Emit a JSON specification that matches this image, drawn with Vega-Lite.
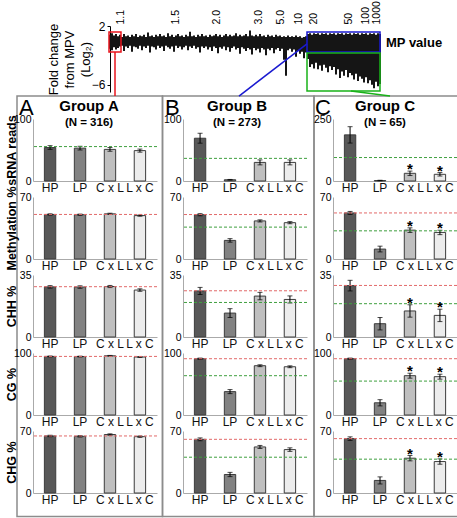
{
"$schema": "https://vega.github.io/schema/vega-lite/v6.json",
"padding": {"left": 4, "top": 0, "right": 0, "bottom": 0},
"background": "white",
"config": {
  "font": "Liberation Sans",
  "view": {"stroke": null},
  "axis": {"labelFont": "Liberation Sans", "titleFont": "Liberation Sans", "labelColor": "black", "titleColor": "black", "grid": false},
  "axisY": {"ticks": false, "domainColor": "#aaaaaa", "labelFontSize": 10.5, "labelPadding": 2, "titleFontSize": 12.5, "titleFontWeight": "bold", "titlePadding": -5, "minExtent": 20, "maxExtent": 20},
  "axisBand": {"labelAngle": 0, "ticks": false, "domainColor": "#aaaaaa", "labelFontSize": 12, "labelPadding": 1, "labelColor": "#111111"},
  "title": {"font": "Liberation Sans", "subtitleFont": "Liberation Sans", "color": "black", "subtitleColor": "black"}
},
"datasets": {
  "fc": [
    {"r":0,"lo":-1.1,"hi":0.8},{"r":2,"lo":-1.3,"hi":1.0},{"r":4,"lo":-0.9,"hi":0.7},{"r":6,"lo":-1.2,"hi":0.9},{"r":8,"lo":-1.0,"hi":0.6},{"r":10,"lo":-0.8,"hi":0.8},{"r":12,"lo":-0.7,"hi":0.5},{"r":14,"lo":-1.4,"hi":0.9},{"r":16,"lo":-0.8,"hi":0.6},{"r":18,"lo":-1.0,"hi":0.7},
    {"r":20,"lo":-0.7,"hi":0.5},{"r":22,"lo":-1.5,"hi":0.8},{"r":24,"lo":-0.8,"hi":0.6},{"r":26,"lo":-0.9,"hi":0.9},{"r":28,"lo":-1.1,"hi":0.5},{"r":30,"lo":-0.7,"hi":0.7},{"r":32,"lo":-1.3,"hi":0.6},{"r":34,"lo":-0.8,"hi":0.8},{"r":36,"lo":-1.0,"hi":0.5},{"r":38,"lo":-0.7,"hi":1.1},
    {"r":40,"lo":-1.6,"hi":0.6},{"r":42,"lo":-0.8,"hi":0.7},{"r":44,"lo":-0.9,"hi":0.5},{"r":46,"lo":-1.2,"hi":0.8},{"r":48,"lo":-0.7,"hi":0.6},{"r":50,"lo":-1.0,"hi":0.9},{"r":52,"lo":-0.8,"hi":0.6},{"r":54,"lo":-1.4,"hi":0.7},{"r":56,"lo":-0.7,"hi":0.5},{"r":58,"lo":-0.9,"hi":1.0},
    {"r":60,"lo":-1.1,"hi":0.6},{"r":62,"lo":-0.8,"hi":0.8},{"r":64,"lo":-1.5,"hi":0.5},{"r":66,"lo":-0.7,"hi":0.7},{"r":68,"lo":-1.0,"hi":0.9},{"r":70,"lo":-0.8,"hi":0.6},{"r":72,"lo":-1.2,"hi":0.7},{"r":74,"lo":-0.9,"hi":0.5},{"r":76,"lo":-0.7,"hi":0.8},{"r":78,"lo":-1.3,"hi":0.6},
    {"r":80,"lo":-0.8,"hi":1.2},{"r":82,"lo":-1.0,"hi":0.6},{"r":84,"lo":-0.7,"hi":0.7},{"r":86,"lo":-1.1,"hi":0.5},{"r":88,"lo":-0.9,"hi":0.8},{"r":90,"lo":-1.6,"hi":0.6},{"r":92,"lo":-0.8,"hi":0.9},{"r":94,"lo":-1.0,"hi":0.6},{"r":96,"lo":-0.8,"hi":0.7},{"r":98,"lo":-1.2,"hi":0.5},
    {"r":100,"lo":-0.9,"hi":0.8},{"r":102,"lo":-1.4,"hi":0.6},{"r":104,"lo":-0.8,"hi":0.7},{"r":106,"lo":-1.0,"hi":0.9},{"r":108,"lo":-1.7,"hi":0.6},{"r":110,"lo":-0.9,"hi":0.8},{"r":112,"lo":-1.1,"hi":0.5},{"r":114,"lo":-0.8,"hi":0.7},{"r":116,"lo":-1.3,"hi":0.9},{"r":118,"lo":-0.9,"hi":0.6},
    {"r":120,"lo":-1.5,"hi":0.8},{"r":122,"lo":-1.0,"hi":0.6},{"r":124,"lo":-0.8,"hi":0.7},{"r":126,"lo":-1.2,"hi":1.0},{"r":128,"lo":-1.0,"hi":0.6},{"r":130,"lo":-1.8,"hi":0.8},{"r":132,"lo":-0.9,"hi":0.6},{"r":134,"lo":-1.1,"hi":0.7},{"r":136,"lo":-1.4,"hi":0.9},{"r":138,"lo":-1.0,"hi":0.6},
    {"r":140,"lo":-1.2,"hi":1.4},{"r":142,"lo":-1.9,"hi":0.7},{"r":144,"lo":-1.0,"hi":0.6},{"r":146,"lo":-1.3,"hi":0.8},{"r":148,"lo":-1.1,"hi":0.6},{"r":150,"lo":-1.6,"hi":0.9},{"r":152,"lo":-1.0,"hi":0.6},{"r":154,"lo":-1.2,"hi":0.7},{"r":156,"lo":-2.0,"hi":0.5},{"r":158,"lo":-1.1,"hi":0.8},
    {"r":160,"lo":-1.3,"hi":0.6},{"r":162,"lo":-1.0,"hi":0.7},{"r":164,"lo":-1.7,"hi":0.5},{"r":166,"lo":-1.2,"hi":0.8},{"r":168,"lo":-1.0,"hi":0.6},{"r":170,"lo":-1.4,"hi":0.7},{"r":172,"lo":-1.1,"hi":0.5},{"r":174,"lo":-2.6,"hi":0.6},{"r":176,"lo":-4.8,"hi":0.5},{"r":178,"lo":-1.3,"hi":0.7},
    {"r":180,"lo":-1.1,"hi":0.5},{"r":182,"lo":-1.5,"hi":0.6},{"r":184,"lo":-1.2,"hi":0.5},{"r":186,"lo":-2.2,"hi":0.7},{"r":188,"lo":-1.4,"hi":0.5},{"r":190,"lo":-1.8,"hi":0.6},{"r":192,"lo":-1.5,"hi":0.4},{"r":194,"lo":-2.4,"hi":0.5},{"r":196,"lo":-1.6,"hi":0.6},{"r":198,"lo":-2.5,"hi":0.9},
    {"r":200,"lo":-3.6,"hi":1.0},{"r":202,"lo":-3.2,"hi":0.8},{"r":204,"lo":-3.8,"hi":1.0},{"r":206,"lo":-3.0,"hi":0.9},{"r":208,"lo":-3.9,"hi":1.0},{"r":210,"lo":-3.4,"hi":0.8},{"r":212,"lo":-4.1,"hi":1.0},{"r":214,"lo":-3.3,"hi":0.9},{"r":216,"lo":-3.7,"hi":1.0},{"r":218,"lo":-4.3,"hi":0.8},
    {"r":220,"lo":-3.5,"hi":1.0},{"r":222,"lo":-4.0,"hi":0.9},{"r":224,"lo":-3.6,"hi":1.0},{"r":226,"lo":-4.6,"hi":0.8},{"r":228,"lo":-3.9,"hi":1.0},{"r":230,"lo":-5.1,"hi":0.9},{"r":232,"lo":-4.2,"hi":1.0},{"r":234,"lo":-4.8,"hi":0.8},{"r":236,"lo":-4.0,"hi":1.0},{"r":238,"lo":-5.0,"hi":0.9},
    {"r":240,"lo":-4.4,"hi":1.0},{"r":242,"lo":-4.7,"hi":0.8},{"r":244,"lo":-5.3,"hi":1.0},{"r":246,"lo":-4.5,"hi":0.9},{"r":248,"lo":-5.5,"hi":1.0},{"r":250,"lo":-4.9,"hi":0.8},{"r":252,"lo":-5.2,"hi":1.0},{"r":254,"lo":-5.7,"hi":0.9},{"r":256,"lo":-5.0,"hi":1.0},{"r":258,"lo":-5.8,"hi":0.8},
    {"r":260,"lo":-5.4,"hi":1.0},{"r":262,"lo":-6.0,"hi":0.9},{"r":264,"lo":-6.5,"hi":1.0},{"r":266,"lo":-5.6,"hi":0.8},{"r":268,"lo":-6.2,"hi":1.0},{"r":270,"lo":-5.9,"hi":0.9}
  ],
  "boxes": [
    {"name":"A box","x1":-1,"x2":11,"y1":1.18,"y2":-1.55},
    {"name":"B box","x1":197,"x2":270,"y1":1.18,"y2":-1.55},
    {"name":"C box","x1":197,"x2":270,"y1":-1.68,"y2":-6.86},
    {"name":"frame","x1":-93,"x2":52.5,"y1":-7.55,"y2":-64.9},
    {"name":"frame","x1":52.5,"x2":204,"y1":-7.55,"y2":-64.9},
    {"name":"frame","x1":204,"x2":349,"y1":-7.55,"y2":-64.9}
  ],
  "links": [
    {"name":"A box","x1":5,"y1":-1.55,"x2":5,"y2":-7.55},
    {"name":"B box","x1":197,"y1":-0.45,"x2":129,"y2":-7.55},
    {"name":"C box","x1":241,"y1":-6.86,"x2":280,"y2":-7.55}
  ],
  "letters": [
    {"t":"A","x":-91,"y":-10.1},{"t":"B","x":55,"y":-10.1},{"t":"C","x":205,"y":-10.1}
  ],
  "notes": [{"t":"MP value","x":276,"y":-0.86}],
  "bars": [
    {"g":"A","k":"sRNA","cat":"HP","m":54,"lo":51,"hi":57,"sig":false},
    {"g":"A","k":"sRNA","cat":"LP","m":53,"lo":50,"hi":56,"sig":false},
    {"g":"A","k":"sRNA","cat":"C x L","m":51,"lo":48,"hi":54,"sig":false},
    {"g":"A","k":"sRNA","cat":"L x C","m":49,"lo":46.5,"hi":51.5,"sig":false},
    {"g":"A","k":"meth","cat":"HP","m":50.3,"lo":49.6,"hi":51,"sig":false},
    {"g":"A","k":"meth","cat":"LP","m":50,"lo":49.3,"hi":50.7,"sig":false},
    {"g":"A","k":"meth","cat":"C x L","m":51,"lo":50.3,"hi":51.7,"sig":false},
    {"g":"A","k":"meth","cat":"L x C","m":49,"lo":48.3,"hi":49.7,"sig":false},
    {"g":"A","k":"CHH","cat":"HP","m":28.3,"lo":27.6,"hi":29,"sig":false},
    {"g":"A","k":"CHH","cat":"LP","m":28.2,"lo":27.5,"hi":28.9,"sig":false},
    {"g":"A","k":"CHH","cat":"C x L","m":28.5,"lo":27.9,"hi":29.1,"sig":false},
    {"g":"A","k":"CHH","cat":"L x C","m":26.5,"lo":25.8,"hi":27.2,"sig":false},
    {"g":"A","k":"CG","cat":"HP","m":94.5,"lo":93.9,"hi":95.1,"sig":false},
    {"g":"A","k":"CG","cat":"LP","m":94.3,"lo":93.7,"hi":94.9,"sig":false},
    {"g":"A","k":"CG","cat":"C x L","m":95.5,"lo":94.9,"hi":96.1,"sig":false},
    {"g":"A","k":"CG","cat":"L x C","m":93.5,"lo":92.9,"hi":94.1,"sig":false},
    {"g":"A","k":"CHG","cat":"HP","m":64.4,"lo":63.6,"hi":65.2,"sig":false},
    {"g":"A","k":"CHG","cat":"LP","m":64,"lo":63.2,"hi":64.8,"sig":false},
    {"g":"A","k":"CHG","cat":"C x L","m":66,"lo":65.2,"hi":66.8,"sig":false},
    {"g":"A","k":"CHG","cat":"L x C","m":63.6,"lo":62.8,"hi":64.4,"sig":false},
    {"g":"B","k":"sRNA","cat":"HP","m":69,"lo":61,"hi":77,"sig":false},
    {"g":"B","k":"sRNA","cat":"LP","m":2,"lo":1.5,"hi":2.5,"sig":false},
    {"g":"B","k":"sRNA","cat":"C x L","m":30,"lo":26,"hi":34,"sig":false},
    {"g":"B","k":"sRNA","cat":"L x C","m":30,"lo":26,"hi":34,"sig":false},
    {"g":"B","k":"meth","cat":"HP","m":50,"lo":48.8,"hi":51.2,"sig":false},
    {"g":"B","k":"meth","cat":"LP","m":21,"lo":19,"hi":23,"sig":false},
    {"g":"B","k":"meth","cat":"C x L","m":43,"lo":41.8,"hi":44.2,"sig":false},
    {"g":"B","k":"meth","cat":"L x C","m":41,"lo":39.8,"hi":42.2,"sig":false},
    {"g":"B","k":"CHH","cat":"HP","m":26,"lo":24,"hi":28,"sig":false},
    {"g":"B","k":"CHH","cat":"LP","m":13.5,"lo":11,"hi":16,"sig":false},
    {"g":"B","k":"CHH","cat":"C x L","m":23.1,"lo":21,"hi":25.2,"sig":false},
    {"g":"B","k":"CHH","cat":"L x C","m":21.2,"lo":19.2,"hi":23.2,"sig":false},
    {"g":"B","k":"CG","cat":"HP","m":90.8,"lo":89.8,"hi":91.8,"sig":false},
    {"g":"B","k":"CG","cat":"LP","m":37.7,"lo":34.5,"hi":41,"sig":false},
    {"g":"B","k":"CG","cat":"C x L","m":79.5,"lo":78,"hi":81,"sig":false},
    {"g":"B","k":"CG","cat":"L x C","m":77.8,"lo":76.3,"hi":79.3,"sig":false},
    {"g":"B","k":"CHG","cat":"HP","m":60.6,"lo":59,"hi":62.2,"sig":false},
    {"g":"B","k":"CHG","cat":"LP","m":20.9,"lo":18.5,"hi":23.3,"sig":false},
    {"g":"B","k":"CHG","cat":"C x L","m":52,"lo":50.3,"hi":53.7,"sig":false},
    {"g":"B","k":"CHG","cat":"L x C","m":49,"lo":47,"hi":51,"sig":false},
    {"g":"C","k":"sRNA","cat":"HP","m":186,"lo":153,"hi":219,"sig":false},
    {"g":"C","k":"sRNA","cat":"LP","m":2,"lo":1,"hi":3,"sig":false},
    {"g":"C","k":"sRNA","cat":"C x L","m":31,"lo":22,"hi":40,"sig":true},
    {"g":"C","k":"sRNA","cat":"L x C","m":27,"lo":20,"hi":34,"sig":true},
    {"g":"C","k":"meth","cat":"HP","m":52,"lo":50.3,"hi":53.7,"sig":false},
    {"g":"C","k":"meth","cat":"LP","m":11.2,"lo":8,"hi":14.5,"sig":false},
    {"g":"C","k":"meth","cat":"C x L","m":32.6,"lo":30,"hi":35.2,"sig":true},
    {"g":"C","k":"meth","cat":"L x C","m":30,"lo":27.5,"hi":32.5,"sig":true},
    {"g":"C","k":"CHH","cat":"HP","m":29,"lo":26,"hi":32,"sig":false},
    {"g":"C","k":"CHH","cat":"LP","m":7.5,"lo":4,"hi":11,"sig":false},
    {"g":"C","k":"CHH","cat":"C x L","m":14.7,"lo":11.2,"hi":18.2,"sig":true},
    {"g":"C","k":"CHH","cat":"L x C","m":12.2,"lo":8.7,"hi":15.7,"sig":true},
    {"g":"C","k":"CG","cat":"HP","m":90.8,"lo":89.8,"hi":91.8,"sig":false},
    {"g":"C","k":"CG","cat":"LP","m":19.7,"lo":14.7,"hi":24.7,"sig":false},
    {"g":"C","k":"CG","cat":"C x L","m":63.4,"lo":59.4,"hi":67.4,"sig":true},
    {"g":"C","k":"CG","cat":"L x C","m":61.8,"lo":57.8,"hi":65.8,"sig":true},
    {"g":"C","k":"CHG","cat":"HP","m":61.4,"lo":59.4,"hi":63.4,"sig":false},
    {"g":"C","k":"CHG","cat":"LP","m":14.2,"lo":10.2,"hi":18.2,"sig":false},
    {"g":"C","k":"CHG","cat":"C x L","m":39.3,"lo":36.3,"hi":42.3,"sig":true},
    {"g":"C","k":"CHG","cat":"L x C","m":35.5,"lo":32.5,"hi":38.5,"sig":true}
  ],
  "refs": [
    {"g":"A","k":"sRNA","kind":"MPV","v":55.5},
    {"g":"A","k":"meth","kind":"HP","v":50.3},
    {"g":"A","k":"CHH","kind":"HP","v":28.4},
    {"g":"A","k":"CG","kind":"HP","v":94.5},
    {"g":"A","k":"CHG","kind":"HP","v":64.4},
    {"g":"B","k":"sRNA","kind":"MPV","v":36.5},
    {"g":"B","k":"meth","kind":"HP","v":50.2},{"g":"B","k":"meth","kind":"MPV","v":36},
    {"g":"B","k":"CHH","kind":"HP","v":26.1},{"g":"B","k":"CHH","kind":"MPV","v":19.5},
    {"g":"B","k":"CG","kind":"HP","v":90.8},{"g":"B","k":"CG","kind":"MPV","v":63.4},
    {"g":"B","k":"CHG","kind":"HP","v":60.6},{"g":"B","k":"CHG","kind":"MPV","v":40.4},
    {"g":"C","k":"sRNA","kind":"MPV","v":94.6},
    {"g":"C","k":"meth","kind":"HP","v":52},{"g":"C","k":"meth","kind":"MPV","v":31.8},
    {"g":"C","k":"CHH","kind":"HP","v":29.1},{"g":"C","k":"CHH","kind":"MPV","v":18.8},
    {"g":"C","k":"CG","kind":"HP","v":90.8},{"g":"C","k":"CG","kind":"MPV","v":54.7},
    {"g":"C","k":"CHG","kind":"HP","v":61.4},{"g":"C","k":"CHG","kind":"MPV","v":38.2}
  ]
},
"bounds": "flush",
"spacing": 27,
"resolve": {"scale": {"stroke": "independent", "fill": "independent"}},
"vconcat": [
  {
    "width": 424, "height": 66,
    "layer": [
      {"data": {"name": "fc"}, "mark": {"type": "rule", "strokeWidth": 2, "color": "#151515"},
       "encoding": {
         "x": {"field": "r", "type": "quantitative", "scale": {"domain": [-77, 347], "nice": false, "zero": false},
               "axis": {"orient": "top", "values": [10,65,106,148,170,188,203,238,255,266],
                        "labelExpr": "datum.value==10?'1.1':datum.value==65?'1.5':datum.value==106?'2.0':datum.value==148?'3.0':datum.value==170?'5.0':datum.value==188?'10':datum.value==203?'20':datum.value==238?'50':datum.value==255?'100':'1000'",
                        "labelAngle": -90, "labelAlign": "left", "labelBaseline": "middle", "domain": false, "ticks": false, "labelFontSize": 10.5, "labelPadding": 2, "title": null, "labelOverlap": false, "labelFlush": false}},
         "y": {"field": "lo", "type": "quantitative", "scale": {"domain": [-7, 2], "nice": false, "zero": false},
               "axis": {"values": [2,0,-2,-4,-6], "offset": -77, "ticks": true, "tickSize": 3, "tickColor": "black", "domainColor": "black", "labelFontSize": 12, "labelPadding": 2, "labelOverlap": false, "labelFlush": false,
                        "title": ["Fold change", "from MPV", "(Log₂)"], "titleFontSize": 13, "titleFontWeight": "normal", "titleLineHeight": 16, "titleX": -50, "titleY": 33, "titleAngle": -90, "titleAlign": "center", "titleBaseline": "bottom", "minExtent": 0, "maxExtent": 200}},
         "y2": {"field": "hi"}
       }},
      {"data": {"name": "boxes"}, "mark": {"type": "rect", "fillOpacity": 0, "strokeWidth": 1.5},
       "encoding": {
         "x": {"field": "x1", "type": "quantitative"}, "x2": {"field": "x2"},
         "y": {"field": "y1", "type": "quantitative"}, "y2": {"field": "y2"},
         "stroke": {"field": "name", "type": "nominal", "scale": {"domain": ["A box", "B box", "C box", "frame"], "range": ["#e8141c", "#1a1ad0", "#19b219", "#8c8c8c"]}, "legend": null}
       }},
      {"data": {"name": "links"}, "mark": {"type": "rule", "strokeWidth": 1.5},
       "encoding": {
         "x": {"field": "x1", "type": "quantitative"}, "x2": {"field": "x2"},
         "y": {"field": "y1", "type": "quantitative"}, "y2": {"field": "y2"},
         "stroke": {"field": "name", "type": "nominal", "legend": null}
       }},
      {"data": {"name": "letters"}, "mark": {"type": "text", "fontSize": 22, "align": "left", "baseline": "alphabetic", "color": "black"},
       "encoding": {"x": {"field": "x", "type": "quantitative"}, "y": {"field": "y", "type": "quantitative"}, "text": {"field": "t"}}},
      {"data": {"name": "notes"}, "mark": {"type": "text", "fontSize": 13, "fontWeight": "bold", "align": "left", "baseline": "alphabetic", "color": "black"},
       "encoding": {"x": {"field": "x", "type": "quantitative"}, "y": {"field": "y", "type": "quantitative"}, "text": {"field": "t"}}}
    ]
  },
  {
    "columns": 3,
    "bounds": "flush",
    "spacing": {"row": 16, "column": 26},
    "resolve": {"scale": {"stroke": "independent", "fill": "independent"}},
    "concat": [
      {"width": 124, "height": 62,
       "title": {"text": "Group A", "subtitle": "(N = 316)", "fontSize": 15, "fontWeight": "bold", "subtitleFontSize": 11.5, "subtitleFontWeight": "bold", "subtitlePadding": 3, "offset": -14, "anchor": "middle", "frame": "group", "dx": -6},
       "layer": [
        {"data": {"name": "bars"}, "transform": [{"filter": "datum.g=='A'&&datum.k=='sRNA'"}], "mark": {"type": "bar", "stroke": "#3c3c3c", "strokeWidth": 1},
         "encoding": {"x": {"field": "cat", "type": "nominal", "sort": ["HP","LP","C x L","L x C"], "scale": {"paddingInner": 0.62, "paddingOuter": 0.38}, "axis": {"title": null}},
                      "y": {"field": "m", "type": "quantitative", "scale": {"domain": [0, 100], "nice": false}, "axis": {"values": [0, 100]}, "title": "sRNA reads"},
                      "fill": {"field": "cat", "type": "nominal", "scale": {"domain": ["HP","LP","C x L","L x C"], "range": ["#585858","#828282","#bfbfbf","#ececec"]}, "legend": null}}},
        {"data": {"name": "bars"}, "transform": [{"filter": "datum.g=='A'&&datum.k=='sRNA'"}], "mark": {"type": "errorbar", "ticks": true, "size": 5, "thickness": 1, "color": "black"},
         "encoding": {"x": {"field": "cat", "type": "nominal", "sort": ["HP","LP","C x L","L x C"]}, "y": {"field": "lo", "type": "quantitative", "title": "sRNA reads"}, "y2": {"field": "hi"}}},
        {"data": {"name": "refs"}, "transform": [{"filter": "datum.g=='A'&&datum.k=='sRNA'"}], "mark": {"type": "rule", "strokeDash": [3, 2], "strokeWidth": 1},
         "encoding": {"y": {"field": "v", "type": "quantitative", "title": "sRNA reads"}, "stroke": {"field": "kind", "type": "nominal", "scale": {"domain": ["HP","MPV"], "range": ["#e26a6a","#3f9f3f"]}, "legend": null}}}
       ]},
      {"width": 124, "height": 62,
       "title": {"text": "Group B", "subtitle": "(N = 273)", "fontSize": 15, "fontWeight": "bold", "subtitleFontSize": 11.5, "subtitleFontWeight": "bold", "subtitlePadding": 3, "offset": -14, "anchor": "middle", "frame": "group", "dx": -8},
       "layer": [
        {"data": {"name": "bars"}, "transform": [{"filter": "datum.g=='B'&&datum.k=='sRNA'"}], "mark": {"type": "bar", "stroke": "#3c3c3c", "strokeWidth": 1},
         "encoding": {"x": {"field": "cat", "type": "nominal", "sort": ["HP","LP","C x L","L x C"], "scale": {"paddingInner": 0.62, "paddingOuter": 0.38}, "axis": {"title": null}},
                      "y": {"field": "m", "type": "quantitative", "scale": {"domain": [0, 100], "nice": false}, "axis": {"values": [0, 100], "title": null}},
                      "fill": {"field": "cat", "type": "nominal", "scale": {"domain": ["HP","LP","C x L","L x C"], "range": ["#585858","#828282","#bfbfbf","#ececec"]}, "legend": null}}},
        {"data": {"name": "bars"}, "transform": [{"filter": "datum.g=='B'&&datum.k=='sRNA'"}], "mark": {"type": "errorbar", "ticks": true, "size": 5, "thickness": 1, "color": "black"},
         "encoding": {"x": {"field": "cat", "type": "nominal", "sort": ["HP","LP","C x L","L x C"]}, "y": {"field": "lo", "type": "quantitative"}, "y2": {"field": "hi"}}},
        {"data": {"name": "refs"}, "transform": [{"filter": "datum.g=='B'&&datum.k=='sRNA'"}], "mark": {"type": "rule", "strokeDash": [3, 2], "strokeWidth": 1},
         "encoding": {"y": {"field": "v", "type": "quantitative"}, "stroke": {"field": "kind", "type": "nominal", "scale": {"domain": ["HP","MPV"], "range": ["#e26a6a","#3f9f3f"]}, "legend": null}}}
       ]},
      {"width": 124, "height": 62,
       "title": {"text": "Group C", "subtitle": "(N = 65)", "fontSize": 15, "fontWeight": "bold", "subtitleFontSize": 11.5, "subtitleFontWeight": "bold", "subtitlePadding": 3, "offset": -14, "anchor": "middle", "frame": "group", "dx": -10},
       "layer": [
        {"data": {"name": "bars"}, "transform": [{"filter": "datum.g=='C'&&datum.k=='sRNA'"}], "mark": {"type": "bar", "stroke": "#3c3c3c", "strokeWidth": 1},
         "encoding": {"x": {"field": "cat", "type": "nominal", "sort": ["HP","LP","C x L","L x C"], "scale": {"paddingInner": 0.62, "paddingOuter": 0.38}, "axis": {"title": null}},
                      "y": {"field": "m", "type": "quantitative", "scale": {"domain": [0, 250], "nice": false}, "axis": {"values": [0, 250], "title": null}},
                      "fill": {"field": "cat", "type": "nominal", "scale": {"domain": ["HP","LP","C x L","L x C"], "range": ["#585858","#828282","#bfbfbf","#ececec"]}, "legend": null}}},
        {"data": {"name": "bars"}, "transform": [{"filter": "datum.g=='C'&&datum.k=='sRNA'"}], "mark": {"type": "errorbar", "ticks": true, "size": 5, "thickness": 1, "color": "black"},
         "encoding": {"x": {"field": "cat", "type": "nominal", "sort": ["HP","LP","C x L","L x C"]}, "y": {"field": "lo", "type": "quantitative"}, "y2": {"field": "hi"}}},
        {"data": {"name": "refs"}, "transform": [{"filter": "datum.g=='C'&&datum.k=='sRNA'"}], "mark": {"type": "rule", "strokeDash": [3, 2], "strokeWidth": 1},
         "encoding": {"y": {"field": "v", "type": "quantitative"}, "stroke": {"field": "kind", "type": "nominal", "scale": {"domain": ["HP","MPV"], "range": ["#e26a6a","#3f9f3f"]}, "legend": null}}},
        {"data": {"name": "bars"}, "transform": [{"filter": "datum.g=='C'&&datum.k=='sRNA'&&datum.sig"}], "mark": {"type": "text", "text": "*", "fontSize": 15, "fontWeight": "bold", "baseline": "alphabetic", "dy": 3, "color": "black"},
         "encoding": {"x": {"field": "cat", "type": "nominal", "sort": ["HP","LP","C x L","L x C"]}, "y": {"field": "hi", "type": "quantitative"}}}
       ]},

      {"width": 124, "height": 62,
       "layer": [
        {"data": {"name": "bars"}, "transform": [{"filter": "datum.g=='A'&&datum.k=='meth'"}], "mark": {"type": "bar", "stroke": "#3c3c3c", "strokeWidth": 1},
         "encoding": {"x": {"field": "cat", "type": "nominal", "sort": ["HP","LP","C x L","L x C"], "scale": {"paddingInner": 0.62, "paddingOuter": 0.38}, "axis": {"title": null}},
                      "y": {"field": "m", "type": "quantitative", "scale": {"domain": [0, 70], "nice": false}, "axis": {"values": [0, 70]}, "title": "Methylation %"},
                      "fill": {"field": "cat", "type": "nominal", "scale": {"domain": ["HP","LP","C x L","L x C"], "range": ["#585858","#828282","#bfbfbf","#ececec"]}, "legend": null}}},
        {"data": {"name": "bars"}, "transform": [{"filter": "datum.g=='A'&&datum.k=='meth'"}], "mark": {"type": "errorbar", "ticks": true, "size": 5, "thickness": 1, "color": "black"},
         "encoding": {"x": {"field": "cat", "type": "nominal", "sort": ["HP","LP","C x L","L x C"]}, "y": {"field": "lo", "type": "quantitative", "title": "Methylation %"}, "y2": {"field": "hi"}}},
        {"data": {"name": "refs"}, "transform": [{"filter": "datum.g=='A'&&datum.k=='meth'"}], "mark": {"type": "rule", "strokeDash": [3, 2], "strokeWidth": 1},
         "encoding": {"y": {"field": "v", "type": "quantitative", "title": "Methylation %"}, "stroke": {"field": "kind", "type": "nominal", "scale": {"domain": ["HP","MPV"], "range": ["#e26a6a","#3f9f3f"]}, "legend": null}}}
       ]},
      {"width": 124, "height": 62,
       "layer": [
        {"data": {"name": "bars"}, "transform": [{"filter": "datum.g=='B'&&datum.k=='meth'"}], "mark": {"type": "bar", "stroke": "#3c3c3c", "strokeWidth": 1},
         "encoding": {"x": {"field": "cat", "type": "nominal", "sort": ["HP","LP","C x L","L x C"], "scale": {"paddingInner": 0.62, "paddingOuter": 0.38}, "axis": {"title": null}},
                      "y": {"field": "m", "type": "quantitative", "scale": {"domain": [0, 70], "nice": false}, "axis": {"values": [0, 70], "title": null}},
                      "fill": {"field": "cat", "type": "nominal", "scale": {"domain": ["HP","LP","C x L","L x C"], "range": ["#585858","#828282","#bfbfbf","#ececec"]}, "legend": null}}},
        {"data": {"name": "bars"}, "transform": [{"filter": "datum.g=='B'&&datum.k=='meth'"}], "mark": {"type": "errorbar", "ticks": true, "size": 5, "thickness": 1, "color": "black"},
         "encoding": {"x": {"field": "cat", "type": "nominal", "sort": ["HP","LP","C x L","L x C"]}, "y": {"field": "lo", "type": "quantitative"}, "y2": {"field": "hi"}}},
        {"data": {"name": "refs"}, "transform": [{"filter": "datum.g=='B'&&datum.k=='meth'"}], "mark": {"type": "rule", "strokeDash": [3, 2], "strokeWidth": 1},
         "encoding": {"y": {"field": "v", "type": "quantitative"}, "stroke": {"field": "kind", "type": "nominal", "scale": {"domain": ["HP","MPV"], "range": ["#e26a6a","#3f9f3f"]}, "legend": null}}}
       ]},
      {"width": 124, "height": 62,
       "layer": [
        {"data": {"name": "bars"}, "transform": [{"filter": "datum.g=='C'&&datum.k=='meth'"}], "mark": {"type": "bar", "stroke": "#3c3c3c", "strokeWidth": 1},
         "encoding": {"x": {"field": "cat", "type": "nominal", "sort": ["HP","LP","C x L","L x C"], "scale": {"paddingInner": 0.62, "paddingOuter": 0.38}, "axis": {"title": null}},
                      "y": {"field": "m", "type": "quantitative", "scale": {"domain": [0, 70], "nice": false}, "axis": {"values": [0, 70], "title": null}},
                      "fill": {"field": "cat", "type": "nominal", "scale": {"domain": ["HP","LP","C x L","L x C"], "range": ["#585858","#828282","#bfbfbf","#ececec"]}, "legend": null}}},
        {"data": {"name": "bars"}, "transform": [{"filter": "datum.g=='C'&&datum.k=='meth'"}], "mark": {"type": "errorbar", "ticks": true, "size": 5, "thickness": 1, "color": "black"},
         "encoding": {"x": {"field": "cat", "type": "nominal", "sort": ["HP","LP","C x L","L x C"]}, "y": {"field": "lo", "type": "quantitative"}, "y2": {"field": "hi"}}},
        {"data": {"name": "refs"}, "transform": [{"filter": "datum.g=='C'&&datum.k=='meth'"}], "mark": {"type": "rule", "strokeDash": [3, 2], "strokeWidth": 1},
         "encoding": {"y": {"field": "v", "type": "quantitative"}, "stroke": {"field": "kind", "type": "nominal", "scale": {"domain": ["HP","MPV"], "range": ["#e26a6a","#3f9f3f"]}, "legend": null}}},
        {"data": {"name": "bars"}, "transform": [{"filter": "datum.g=='C'&&datum.k=='meth'&&datum.sig"}], "mark": {"type": "text", "text": "*", "fontSize": 15, "fontWeight": "bold", "baseline": "alphabetic", "dy": 3, "color": "black"},
         "encoding": {"x": {"field": "cat", "type": "nominal", "sort": ["HP","LP","C x L","L x C"]}, "y": {"field": "hi", "type": "quantitative"}}}
       ]},

      {"width": 124, "height": 62,
       "layer": [
        {"data": {"name": "bars"}, "transform": [{"filter": "datum.g=='A'&&datum.k=='CHH'"}], "mark": {"type": "bar", "stroke": "#3c3c3c", "strokeWidth": 1},
         "encoding": {"x": {"field": "cat", "type": "nominal", "sort": ["HP","LP","C x L","L x C"], "scale": {"paddingInner": 0.62, "paddingOuter": 0.38}, "axis": {"title": null}},
                      "y": {"field": "m", "type": "quantitative", "scale": {"domain": [0, 35], "nice": false}, "axis": {"values": [0, 35]}, "title": "CHH %"},
                      "fill": {"field": "cat", "type": "nominal", "scale": {"domain": ["HP","LP","C x L","L x C"], "range": ["#585858","#828282","#bfbfbf","#ececec"]}, "legend": null}}},
        {"data": {"name": "bars"}, "transform": [{"filter": "datum.g=='A'&&datum.k=='CHH'"}], "mark": {"type": "errorbar", "ticks": true, "size": 5, "thickness": 1, "color": "black"},
         "encoding": {"x": {"field": "cat", "type": "nominal", "sort": ["HP","LP","C x L","L x C"]}, "y": {"field": "lo", "type": "quantitative", "title": "CHH %"}, "y2": {"field": "hi"}}},
        {"data": {"name": "refs"}, "transform": [{"filter": "datum.g=='A'&&datum.k=='CHH'"}], "mark": {"type": "rule", "strokeDash": [3, 2], "strokeWidth": 1},
         "encoding": {"y": {"field": "v", "type": "quantitative", "title": "CHH %"}, "stroke": {"field": "kind", "type": "nominal", "scale": {"domain": ["HP","MPV"], "range": ["#e26a6a","#3f9f3f"]}, "legend": null}}}
       ]},
      {"width": 124, "height": 62,
       "layer": [
        {"data": {"name": "bars"}, "transform": [{"filter": "datum.g=='B'&&datum.k=='CHH'"}], "mark": {"type": "bar", "stroke": "#3c3c3c", "strokeWidth": 1},
         "encoding": {"x": {"field": "cat", "type": "nominal", "sort": ["HP","LP","C x L","L x C"], "scale": {"paddingInner": 0.62, "paddingOuter": 0.38}, "axis": {"title": null}},
                      "y": {"field": "m", "type": "quantitative", "scale": {"domain": [0, 35], "nice": false}, "axis": {"values": [0, 35], "title": null}},
                      "fill": {"field": "cat", "type": "nominal", "scale": {"domain": ["HP","LP","C x L","L x C"], "range": ["#585858","#828282","#bfbfbf","#ececec"]}, "legend": null}}},
        {"data": {"name": "bars"}, "transform": [{"filter": "datum.g=='B'&&datum.k=='CHH'"}], "mark": {"type": "errorbar", "ticks": true, "size": 5, "thickness": 1, "color": "black"},
         "encoding": {"x": {"field": "cat", "type": "nominal", "sort": ["HP","LP","C x L","L x C"]}, "y": {"field": "lo", "type": "quantitative"}, "y2": {"field": "hi"}}},
        {"data": {"name": "refs"}, "transform": [{"filter": "datum.g=='B'&&datum.k=='CHH'"}], "mark": {"type": "rule", "strokeDash": [3, 2], "strokeWidth": 1},
         "encoding": {"y": {"field": "v", "type": "quantitative"}, "stroke": {"field": "kind", "type": "nominal", "scale": {"domain": ["HP","MPV"], "range": ["#e26a6a","#3f9f3f"]}, "legend": null}}}
       ]},
      {"width": 124, "height": 62,
       "layer": [
        {"data": {"name": "bars"}, "transform": [{"filter": "datum.g=='C'&&datum.k=='CHH'"}], "mark": {"type": "bar", "stroke": "#3c3c3c", "strokeWidth": 1},
         "encoding": {"x": {"field": "cat", "type": "nominal", "sort": ["HP","LP","C x L","L x C"], "scale": {"paddingInner": 0.62, "paddingOuter": 0.38}, "axis": {"title": null}},
                      "y": {"field": "m", "type": "quantitative", "scale": {"domain": [0, 35], "nice": false}, "axis": {"values": [0, 35], "title": null}},
                      "fill": {"field": "cat", "type": "nominal", "scale": {"domain": ["HP","LP","C x L","L x C"], "range": ["#585858","#828282","#bfbfbf","#ececec"]}, "legend": null}}},
        {"data": {"name": "bars"}, "transform": [{"filter": "datum.g=='C'&&datum.k=='CHH'"}], "mark": {"type": "errorbar", "ticks": true, "size": 5, "thickness": 1, "color": "black"},
         "encoding": {"x": {"field": "cat", "type": "nominal", "sort": ["HP","LP","C x L","L x C"]}, "y": {"field": "lo", "type": "quantitative"}, "y2": {"field": "hi"}}},
        {"data": {"name": "refs"}, "transform": [{"filter": "datum.g=='C'&&datum.k=='CHH'"}], "mark": {"type": "rule", "strokeDash": [3, 2], "strokeWidth": 1},
         "encoding": {"y": {"field": "v", "type": "quantitative"}, "stroke": {"field": "kind", "type": "nominal", "scale": {"domain": ["HP","MPV"], "range": ["#e26a6a","#3f9f3f"]}, "legend": null}}},
        {"data": {"name": "bars"}, "transform": [{"filter": "datum.g=='C'&&datum.k=='CHH'&&datum.sig"}], "mark": {"type": "text", "text": "*", "fontSize": 15, "fontWeight": "bold", "baseline": "alphabetic", "dy": 3, "color": "black"},
         "encoding": {"x": {"field": "cat", "type": "nominal", "sort": ["HP","LP","C x L","L x C"]}, "y": {"field": "hi", "type": "quantitative"}}}
       ]},

      {"width": 124, "height": 62,
       "layer": [
        {"data": {"name": "bars"}, "transform": [{"filter": "datum.g=='A'&&datum.k=='CG'"}], "mark": {"type": "bar", "stroke": "#3c3c3c", "strokeWidth": 1},
         "encoding": {"x": {"field": "cat", "type": "nominal", "sort": ["HP","LP","C x L","L x C"], "scale": {"paddingInner": 0.62, "paddingOuter": 0.38}, "axis": {"title": null}},
                      "y": {"field": "m", "type": "quantitative", "scale": {"domain": [0, 100], "nice": false}, "axis": {"values": [0, 100]}, "title": "CG %"},
                      "fill": {"field": "cat", "type": "nominal", "scale": {"domain": ["HP","LP","C x L","L x C"], "range": ["#585858","#828282","#bfbfbf","#ececec"]}, "legend": null}}},
        {"data": {"name": "bars"}, "transform": [{"filter": "datum.g=='A'&&datum.k=='CG'"}], "mark": {"type": "errorbar", "ticks": true, "size": 5, "thickness": 1, "color": "black"},
         "encoding": {"x": {"field": "cat", "type": "nominal", "sort": ["HP","LP","C x L","L x C"]}, "y": {"field": "lo", "type": "quantitative", "title": "CG %"}, "y2": {"field": "hi"}}},
        {"data": {"name": "refs"}, "transform": [{"filter": "datum.g=='A'&&datum.k=='CG'"}], "mark": {"type": "rule", "strokeDash": [3, 2], "strokeWidth": 1},
         "encoding": {"y": {"field": "v", "type": "quantitative", "title": "CG %"}, "stroke": {"field": "kind", "type": "nominal", "scale": {"domain": ["HP","MPV"], "range": ["#e26a6a","#3f9f3f"]}, "legend": null}}}
       ]},
      {"width": 124, "height": 62,
       "layer": [
        {"data": {"name": "bars"}, "transform": [{"filter": "datum.g=='B'&&datum.k=='CG'"}], "mark": {"type": "bar", "stroke": "#3c3c3c", "strokeWidth": 1},
         "encoding": {"x": {"field": "cat", "type": "nominal", "sort": ["HP","LP","C x L","L x C"], "scale": {"paddingInner": 0.62, "paddingOuter": 0.38}, "axis": {"title": null}},
                      "y": {"field": "m", "type": "quantitative", "scale": {"domain": [0, 100], "nice": false}, "axis": {"values": [0, 100], "title": null}},
                      "fill": {"field": "cat", "type": "nominal", "scale": {"domain": ["HP","LP","C x L","L x C"], "range": ["#585858","#828282","#bfbfbf","#ececec"]}, "legend": null}}},
        {"data": {"name": "bars"}, "transform": [{"filter": "datum.g=='B'&&datum.k=='CG'"}], "mark": {"type": "errorbar", "ticks": true, "size": 5, "thickness": 1, "color": "black"},
         "encoding": {"x": {"field": "cat", "type": "nominal", "sort": ["HP","LP","C x L","L x C"]}, "y": {"field": "lo", "type": "quantitative"}, "y2": {"field": "hi"}}},
        {"data": {"name": "refs"}, "transform": [{"filter": "datum.g=='B'&&datum.k=='CG'"}], "mark": {"type": "rule", "strokeDash": [3, 2], "strokeWidth": 1},
         "encoding": {"y": {"field": "v", "type": "quantitative"}, "stroke": {"field": "kind", "type": "nominal", "scale": {"domain": ["HP","MPV"], "range": ["#e26a6a","#3f9f3f"]}, "legend": null}}}
       ]},
      {"width": 124, "height": 62,
       "layer": [
        {"data": {"name": "bars"}, "transform": [{"filter": "datum.g=='C'&&datum.k=='CG'"}], "mark": {"type": "bar", "stroke": "#3c3c3c", "strokeWidth": 1},
         "encoding": {"x": {"field": "cat", "type": "nominal", "sort": ["HP","LP","C x L","L x C"], "scale": {"paddingInner": 0.62, "paddingOuter": 0.38}, "axis": {"title": null}},
                      "y": {"field": "m", "type": "quantitative", "scale": {"domain": [0, 100], "nice": false}, "axis": {"values": [0, 100], "title": null}},
                      "fill": {"field": "cat", "type": "nominal", "scale": {"domain": ["HP","LP","C x L","L x C"], "range": ["#585858","#828282","#bfbfbf","#ececec"]}, "legend": null}}},
        {"data": {"name": "bars"}, "transform": [{"filter": "datum.g=='C'&&datum.k=='CG'"}], "mark": {"type": "errorbar", "ticks": true, "size": 5, "thickness": 1, "color": "black"},
         "encoding": {"x": {"field": "cat", "type": "nominal", "sort": ["HP","LP","C x L","L x C"]}, "y": {"field": "lo", "type": "quantitative"}, "y2": {"field": "hi"}}},
        {"data": {"name": "refs"}, "transform": [{"filter": "datum.g=='C'&&datum.k=='CG'"}], "mark": {"type": "rule", "strokeDash": [3, 2], "strokeWidth": 1},
         "encoding": {"y": {"field": "v", "type": "quantitative"}, "stroke": {"field": "kind", "type": "nominal", "scale": {"domain": ["HP","MPV"], "range": ["#e26a6a","#3f9f3f"]}, "legend": null}}},
        {"data": {"name": "bars"}, "transform": [{"filter": "datum.g=='C'&&datum.k=='CG'&&datum.sig"}], "mark": {"type": "text", "text": "*", "fontSize": 15, "fontWeight": "bold", "baseline": "alphabetic", "dy": 3, "color": "black"},
         "encoding": {"x": {"field": "cat", "type": "nominal", "sort": ["HP","LP","C x L","L x C"]}, "y": {"field": "hi", "type": "quantitative"}}}
       ]},

      {"width": 124, "height": 62,
       "layer": [
        {"data": {"name": "bars"}, "transform": [{"filter": "datum.g=='A'&&datum.k=='CHG'"}], "mark": {"type": "bar", "stroke": "#3c3c3c", "strokeWidth": 1},
         "encoding": {"x": {"field": "cat", "type": "nominal", "sort": ["HP","LP","C x L","L x C"], "scale": {"paddingInner": 0.62, "paddingOuter": 0.38}, "axis": {"title": null}},
                      "y": {"field": "m", "type": "quantitative", "scale": {"domain": [0, 70], "nice": false}, "axis": {"values": [0, 70]}, "title": "CHG %"},
                      "fill": {"field": "cat", "type": "nominal", "scale": {"domain": ["HP","LP","C x L","L x C"], "range": ["#585858","#828282","#bfbfbf","#ececec"]}, "legend": null}}},
        {"data": {"name": "bars"}, "transform": [{"filter": "datum.g=='A'&&datum.k=='CHG'"}], "mark": {"type": "errorbar", "ticks": true, "size": 5, "thickness": 1, "color": "black"},
         "encoding": {"x": {"field": "cat", "type": "nominal", "sort": ["HP","LP","C x L","L x C"]}, "y": {"field": "lo", "type": "quantitative", "title": "CHG %"}, "y2": {"field": "hi"}}},
        {"data": {"name": "refs"}, "transform": [{"filter": "datum.g=='A'&&datum.k=='CHG'"}], "mark": {"type": "rule", "strokeDash": [3, 2], "strokeWidth": 1},
         "encoding": {"y": {"field": "v", "type": "quantitative", "title": "CHG %"}, "stroke": {"field": "kind", "type": "nominal", "scale": {"domain": ["HP","MPV"], "range": ["#e26a6a","#3f9f3f"]}, "legend": null}}}
       ]},
      {"width": 124, "height": 62,
       "layer": [
        {"data": {"name": "bars"}, "transform": [{"filter": "datum.g=='B'&&datum.k=='CHG'"}], "mark": {"type": "bar", "stroke": "#3c3c3c", "strokeWidth": 1},
         "encoding": {"x": {"field": "cat", "type": "nominal", "sort": ["HP","LP","C x L","L x C"], "scale": {"paddingInner": 0.62, "paddingOuter": 0.38}, "axis": {"title": null}},
                      "y": {"field": "m", "type": "quantitative", "scale": {"domain": [0, 70], "nice": false}, "axis": {"values": [0, 70], "title": null}},
                      "fill": {"field": "cat", "type": "nominal", "scale": {"domain": ["HP","LP","C x L","L x C"], "range": ["#585858","#828282","#bfbfbf","#ececec"]}, "legend": null}}},
        {"data": {"name": "bars"}, "transform": [{"filter": "datum.g=='B'&&datum.k=='CHG'"}], "mark": {"type": "errorbar", "ticks": true, "size": 5, "thickness": 1, "color": "black"},
         "encoding": {"x": {"field": "cat", "type": "nominal", "sort": ["HP","LP","C x L","L x C"]}, "y": {"field": "lo", "type": "quantitative"}, "y2": {"field": "hi"}}},
        {"data": {"name": "refs"}, "transform": [{"filter": "datum.g=='B'&&datum.k=='CHG'"}], "mark": {"type": "rule", "strokeDash": [3, 2], "strokeWidth": 1},
         "encoding": {"y": {"field": "v", "type": "quantitative"}, "stroke": {"field": "kind", "type": "nominal", "scale": {"domain": ["HP","MPV"], "range": ["#e26a6a","#3f9f3f"]}, "legend": null}}}
       ]},
      {"width": 124, "height": 62,
       "layer": [
        {"data": {"name": "bars"}, "transform": [{"filter": "datum.g=='C'&&datum.k=='CHG'"}], "mark": {"type": "bar", "stroke": "#3c3c3c", "strokeWidth": 1},
         "encoding": {"x": {"field": "cat", "type": "nominal", "sort": ["HP","LP","C x L","L x C"], "scale": {"paddingInner": 0.62, "paddingOuter": 0.38}, "axis": {"title": null}},
                      "y": {"field": "m", "type": "quantitative", "scale": {"domain": [0, 70], "nice": false}, "axis": {"values": [0, 70], "title": null}},
                      "fill": {"field": "cat", "type": "nominal", "scale": {"domain": ["HP","LP","C x L","L x C"], "range": ["#585858","#828282","#bfbfbf","#ececec"]}, "legend": null}}},
        {"data": {"name": "bars"}, "transform": [{"filter": "datum.g=='C'&&datum.k=='CHG'"}], "mark": {"type": "errorbar", "ticks": true, "size": 5, "thickness": 1, "color": "black"},
         "encoding": {"x": {"field": "cat", "type": "nominal", "sort": ["HP","LP","C x L","L x C"]}, "y": {"field": "lo", "type": "quantitative"}, "y2": {"field": "hi"}}},
        {"data": {"name": "refs"}, "transform": [{"filter": "datum.g=='C'&&datum.k=='CHG'"}], "mark": {"type": "rule", "strokeDash": [3, 2], "strokeWidth": 1},
         "encoding": {"y": {"field": "v", "type": "quantitative"}, "stroke": {"field": "kind", "type": "nominal", "scale": {"domain": ["HP","MPV"], "range": ["#e26a6a","#3f9f3f"]}, "legend": null}}},
        {"data": {"name": "bars"}, "transform": [{"filter": "datum.g=='C'&&datum.k=='CHG'&&datum.sig"}], "mark": {"type": "text", "text": "*", "fontSize": 15, "fontWeight": "bold", "baseline": "alphabetic", "dy": 3, "color": "black"},
         "encoding": {"x": {"field": "cat", "type": "nominal", "sort": ["HP","LP","C x L","L x C"]}, "y": {"field": "hi", "type": "quantitative"}}}
       ]}
    ]
  }
]
}
